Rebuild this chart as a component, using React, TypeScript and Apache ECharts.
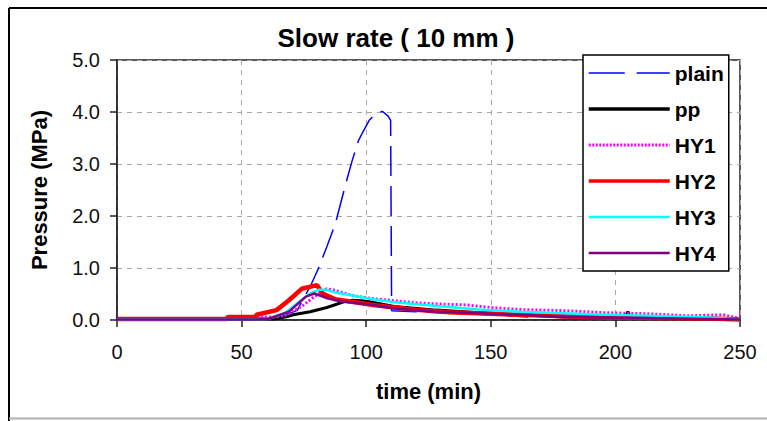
import React, { useEffect, useRef } from "react";
import * as echarts from "echarts";

const FONT = "'Liberation Sans', Arial, sans-serif";

const titleText = "Slow rate ( 10 mm )";
const xAxisTitle = "time (min)";
const yAxisTitle = "Pressure (MPa)";
const seriesNames = ["plain", "pp", "HY1", "HY2", "HY3", "HY4"];

const plainTime = [0, 30, 50, 60, 66, 70, 72.4, 74.1, 77.5, 80.9, 84.2, 87.6, 91.8, 94.4, 96.9, 98.6, 101.2, 104.5, 106.6, 108.8, 109.8, 110.2, 120, 135, 150, 165];
const plainP = [0.01, 0.01, 0.02, 0.04, 0.08, 0.14, 0.19, 0.35, 0.64, 1.0, 1.41, 1.85, 2.62, 3.07, 3.45, 3.61, 3.84, 4.0, 4.01, 3.92, 3.84, 0.18, 0.16, 0.13, 0.1, 0.06];

const ppTime = [0, 50, 60, 63.9, 68, 70.7, 77.5, 84.2, 91.0, 94.4, 98, 101.2, 111.3, 128.2, 145.1, 162.0, 179.0, 195.9, 204, 205, 206, 212.8, 229.7, 250];
const ppP = [0.01, 0.01, 0.02, 0.03, 0.06, 0.1, 0.16, 0.24, 0.35, 0.38, 0.37, 0.35, 0.26, 0.19, 0.14, 0.1, 0.06, 0.05, 0.05, 0.16, 0.05, 0.04, 0.03, 0.01];

const hy1Time = [0, 30, 45, 55, 63.9, 68, 74.1, 79.2, 84.2, 87.6, 94.4, 102.8, 111.3, 119.8, 128.2, 140.1, 150.2, 162.0, 179.0, 195.9, 212.8, 229.7, 243.2, 250];
const hy1P = [0.01, 0.01, 0.03, 0.05, 0.06, 0.1, 0.26, 0.45, 0.6, 0.57, 0.47, 0.41, 0.37, 0.33, 0.31, 0.29, 0.24, 0.2, 0.18, 0.14, 0.12, 0.08, 0.1, 0.03];

const hy2Time = [0, 44, 44.5, 55.5, 56, 64, 69, 74.1, 80.3, 82.5, 87.6, 94.4, 102.8, 111.3, 121.4, 133.3, 150.2, 167.1, 195.9, 238.2, 250];
const hy2P = [0.02, 0.02, 0.06, 0.06, 0.1, 0.19, 0.38, 0.6, 0.67, 0.51, 0.4, 0.35, 0.29, 0.24, 0.19, 0.15, 0.12, 0.09, 0.05, 0.03, 0.01];

const hy3Time = [0, 55, 60.6, 67.3, 72.4, 77.5, 80.9, 84.2, 87.6, 94.4, 102.8, 111.3, 128.2, 145.1, 162.0, 179.0, 195.9, 212.8, 238.2, 250];
const hy3P = [0.01, 0.01, 0.02, 0.13, 0.32, 0.51, 0.58, 0.58, 0.53, 0.47, 0.4, 0.34, 0.27, 0.2, 0.16, 0.13, 0.1, 0.08, 0.05, 0.01];

const hy4Time = [0, 55, 60.6, 69.0, 75.8, 79.2, 84.2, 91.0, 102.8, 111.3, 128.2, 145.1, 162.0, 179.0, 212.8, 250];
const hy4P = [0.01, 0.01, 0.02, 0.16, 0.45, 0.51, 0.42, 0.35, 0.29, 0.22, 0.16, 0.13, 0.1, 0.06, 0.04, 0.01];

const zip = (t: number[], p: number[]) => t.map((v, i) => [v, p[i]]);

export default function App() {
  const ref = useRef<HTMLDivElement>(null);
  useEffect(() => {
    const chart = echarts.init(ref.current!, null, { renderer: "svg" });
    const styles = [
      { color: "#0000FF", width: 1.5, type: [30, 10] as any, legendType: [36, 12] as any, legendWidth: 1.5 },
      { color: "#000000", width: 3, type: "solid", legendType: "solid", legendWidth: 3.5 },
      { color: "#FF00FF", width: 3, type: [2, 2] as any, legendType: [2, 1.5] as any, legendWidth: 3 },
      { color: "#FF0000", width: 4.5, type: "solid", legendType: "solid", legendWidth: 3.5 },
      { color: "#00FFFF", width: 2.5, type: "solid", legendType: "solid", legendWidth: 2.5 },
      { color: "#800080", width: 2.5, type: "solid", legendType: "solid", legendWidth: 2.5 },
    ];
    const datas = [
      zip(plainTime, plainP),
      zip(ppTime, ppP),
      zip(hy1Time, hy1P),
      zip(hy2Time, hy2P),
      zip(hy3Time, hy3P),
      zip(hy4Time, hy4P),
    ];
    chart.setOption({
      animation: false,
      backgroundColor: "#ffffff",
      textStyle: { fontFamily: FONT },
      title: {
        text: titleText,
        left: 396,
        textAlign: "center",
        top: 25,
        padding: 0,
        textStyle: { fontFamily: FONT, fontSize: 26, fontWeight: "bold", color: "#000" },
      },
      grid: {
        left: 117,
        right: 27,
        top: 60,
        bottom: 101,
        show: true,
        borderColor: "#222",
        borderWidth: 1.5,
        backgroundColor: "#fff",
      },
      legend: {
        orient: "vertical",
        left: 583,
        top: 55,
        padding: [7, 5, 7, 4],
        itemWidth: 81,
        itemHeight: 14,
        itemGap: 14,
        backgroundColor: "#fff",
        borderColor: "#000",
        borderWidth: 1.5,
        borderRadius: 0,
        textStyle: { fontFamily: FONT, fontSize: 21, fontWeight: "bold", color: "#000", lineHeight: 22 },
        data: seriesNames.map((n, i) => ({
          name: n,
          itemStyle: { opacity: 0 },
          lineStyle: { color: styles[i].color, width: styles[i].legendWidth, type: styles[i].legendType },
        })),
      },
      xAxis: {
        type: "value",
        min: 0,
        max: 250,
        interval: 50,
        name: xAxisTitle,
        nameLocation: "middle",
        nameGap: 60,
        nameTextStyle: { fontFamily: FONT, fontSize: 22, fontWeight: "bold", color: "#000" },
        axisLine: { show: true, lineStyle: { color: "#222", width: 1.5 } },
        axisTick: { show: true, inside: false, length: 7, lineStyle: { color: "#222", width: 1.5 } },
        axisLabel: { margin: 22, fontFamily: FONT, fontSize: 20, color: "#111" },
        splitLine: { show: true, lineStyle: { color: "#a8a8a8", width: 1, type: [5, 5] } },
      },
      yAxis: {
        type: "value",
        min: 0,
        max: 5,
        interval: 1,
        name: yAxisTitle,
        nameLocation: "middle",
        nameGap: 67,
        nameTextStyle: { fontFamily: FONT, fontSize: 22, fontWeight: "bold", color: "#000" },
        axisLine: { show: true, lineStyle: { color: "#222", width: 1.5 } },
        axisTick: { show: true, inside: false, length: 7, lineStyle: { color: "#222", width: 1.5 } },
        axisLabel: {
          margin: 17,
          fontFamily: FONT,
          fontSize: 20,
          color: "#111",
          formatter: (v: number) => v.toFixed(1),
        },
        splitLine: { show: true, lineStyle: { color: "#a8a8a8", width: 1, type: [5, 5] } },
      },
      graphic: [
        { type: "line", shape: { x1: 9, y1: 8, x2: 767, y2: 8 }, style: { stroke: "#000", lineWidth: 2 } },
        { type: "line", shape: { x1: 9, y1: 8, x2: 9, y2: 421 }, style: { stroke: "#000", lineWidth: 2 } },
        { type: "line", shape: { x1: 9, y1: 418.5, x2: 767, y2: 418.5 }, style: { stroke: "#b0b0b0", lineWidth: 2 } },
      ],
      series: seriesNames.map((n, i) => ({
        name: n,
        type: "line",
        symbol: "none",
        showSymbol: false,
        smooth: false,
        data: datas[i],
        lineStyle: { color: styles[i].color, width: styles[i].width, type: styles[i].type },
        itemStyle: { color: styles[i].color },
        emphasis: { disabled: true },
      })),
    });
    return () => chart.dispose();
  }, []);
  return (
    <div
      ref={ref}
      style={{ position: "absolute", left: 0, top: 0, width: 767, height: 421, background: "#fff" }}
    />
  );
}
